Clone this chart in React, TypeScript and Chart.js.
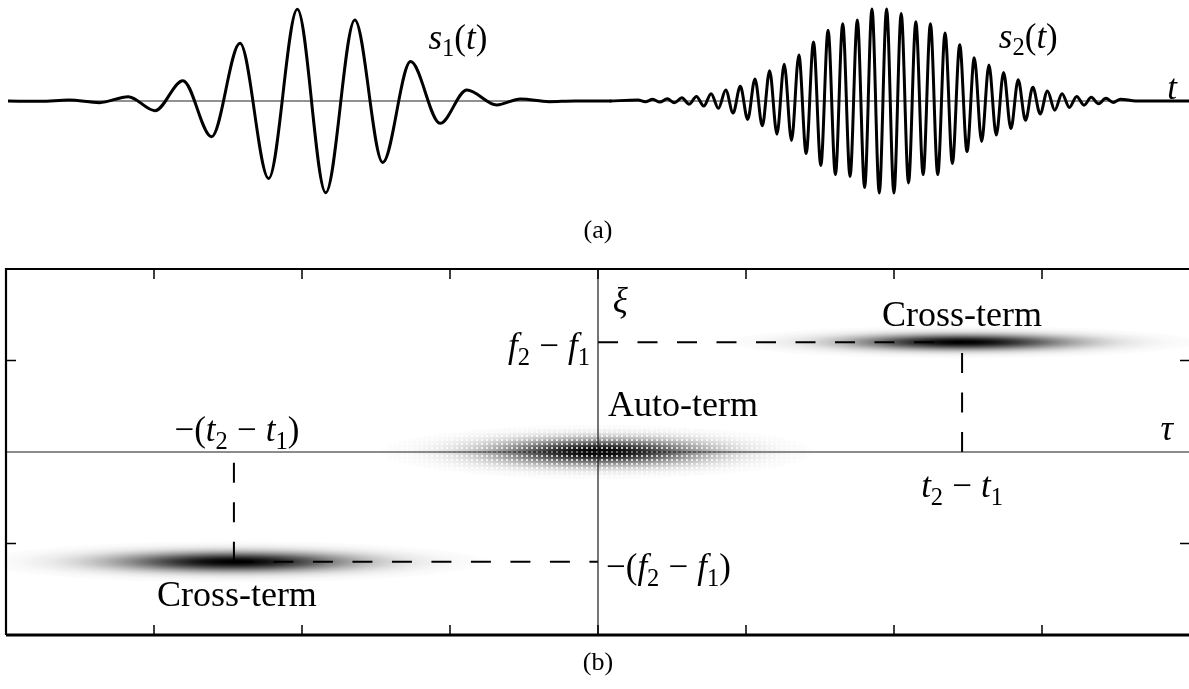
import { useEffect, useRef } from "react";
import { Chart, registerables } from "chart.js";

Chart.register(...registerables);

// ---------- (a) test signals: extrema of s1(t) and s2(t) ----------
const T_MIN = 0;
const T_MAX = 20;

const S1_T = [0, 0.55, 1.031, 1.55, 2.036, 2.489, 2.962, 3.448, 3.929, 4.414, 4.9, 5.38, 5.873, 6.346, 6.818, 7.318, 7.771, 8.276, 8.679, 9.16, 9.6, 10.2];
const S1_A = [0, -0.004, 0.011, -0.018, 0.047, -0.105, 0.221, -0.388, 0.627, -0.841, 0.996, -0.996, 0.88, -0.667, 0.428, -0.243, 0.12, -0.043, 0.022, -0.008, 0, 0];

const S2_T = [
  10.2, 10.669, 10.793, 10.917, 11.04, 11.164, 11.288, 11.412, 11.536, 11.659, 11.783,
  11.907, 12.031, 12.155, 12.279, 12.402, 12.526, 12.65, 12.774, 12.898, 13.022,
  13.145, 13.269, 13.393, 13.517, 13.641, 13.765, 13.888, 14.012, 14.136, 14.26,
  14.383, 14.507, 14.631, 14.755, 14.879, 15.003, 15.126, 15.25, 15.374, 15.498,
  15.621, 15.745, 15.869, 15.993, 16.117, 16.241, 16.364, 16.488, 16.612, 16.736,
  16.86, 16.984, 17.107, 17.231, 17.355, 17.479, 17.603, 17.727, 17.85, 17.974,
  18.098, 18.222, 18.345, 18.469, 18.593, 18.717, 18.841, 19.1, 20,
];
const S2_A = [
  0, 0.01, -0.008, 0.018, -0.012, 0.025, -0.02, 0.035, -0.035, 0.05, -0.055,
  0.08, -0.08, 0.12, -0.13, 0.16, -0.2, 0.24, -0.27, 0.33, -0.36,
  0.4, -0.43, 0.5, -0.57, 0.64, -0.7, 0.77, -0.8, 0.84, -0.82,
  0.88, -0.94, 1.0, -1.0, 1.0, -1.0, 0.95, -0.89, 0.86, -0.8,
  0.84, -0.8, 0.74, -0.68, 0.61, -0.55, 0.47, -0.44, 0.39, -0.37,
  0.31, -0.3, 0.23, -0.21, 0.15, -0.14, 0.11, -0.1, 0.08, -0.07,
  0.05, -0.045, 0.04, -0.03, 0.03, -0.015, 0.02, 0, 0,
];

// ---------- (b) ambiguity plane: auto-term and the two cross-terms ----------
const TAU_MIN = -4;
const TAU_MAX = 4;
const XI_MIN = -2;
const XI_MAX = 2;
const TAU_TICKS = [-3, -2, -1, 0, 1, 2, 3];
const XI_TICKS = [-1, 1];

const TIME_LAG = 2.46; // t2 - t1
const FREQ_SHIFT = 1.2; // f2 - f1

const TERM_KIND = ["auto", "cross", "cross"];
const TERM_TAU = [0, TIME_LAG, -TIME_LAG];
const TERM_XI = [0, FREQ_SHIFT, -FREQ_SHIFT];
const TERM_PEAK = [1, 1, 1];
const TERM_SIGMA_TAU = [0.37, 0.4, 0.43];
const TERM_SIGMA_XI = [0.075, 0.045, 0.057];

const SERIF = '"Liberation Serif", "DejaVu Serif", serif';
const MATH_SIZE = 35;
const TEXT_SIZE = 36;
const CAPTION_SIZE = 26;

type Seg = { t?: string; it?: boolean; sub?: boolean; gap?: number };
type Label = { segs: Seg[]; x: number; y: number; align: "left" | "center" | "right"; size: number };

const MINUS: Seg[] = [{ gap: 0.26 }, { t: "\u2212" }, { gap: 0.26 }];

function drawRich(ctx: CanvasRenderingContext2D, segs: Seg[], x: number, y: number, align: string, size: number) {
  const parts = segs.map((s) => {
    if (s.gap) return { w: s.gap * size, t: "", font: "", dy: 0 };
    const fs = s.sub ? size * 0.7 : size;
    const font = `${s.it ? "italic " : ""}${fs}px ${SERIF}`;
    ctx.font = font;
    return { w: ctx.measureText(s.t || "").width, t: s.t || "", font, dy: s.sub ? size * 0.22 : 0 };
  });
  const total = parts.reduce((a, p) => a + p.w, 0);
  let cx = align === "left" ? x : align === "right" ? x - total : x - total / 2;
  ctx.fillStyle = "#000";
  ctx.textBaseline = "alphabetic";
  ctx.textAlign = "left";
  for (const p of parts) {
    if (p.t) {
      ctx.font = p.font;
      ctx.fillText(p.t, cx, y + p.dy);
    }
    cx += p.w;
  }
}

const TOP_LABELS: Label[] = [
  { segs: [{ t: "s", it: true }, { t: "1", sub: true }, { t: "(" }, { t: "t", it: true }, { t: ")" }], x: 7.12, y: 0.57, align: "left", size: MATH_SIZE },
  { segs: [{ t: "s", it: true }, { t: "2", sub: true }, { t: "(" }, { t: "t", it: true }, { t: ")" }], x: 16.78, y: 0.58, align: "left", size: MATH_SIZE },
  { segs: [{ t: "t", it: true }], x: 19.63, y: 0.02, align: "left", size: MATH_SIZE },
  { segs: [{ t: "(a)" }], x: 9.99, y: -1.49, align: "center", size: CAPTION_SIZE },
];

const BOTTOM_LABELS: Label[] = [
  { segs: [{ t: "\u03be", it: true }], x: 0.1, y: 1.53, align: "left", size: MATH_SIZE },
  { segs: [{ t: "f", it: true }, { t: "2", sub: true }, ...MINUS, { t: "f", it: true }, { t: "1", sub: true }], x: -0.054, y: 1.04, align: "right", size: MATH_SIZE },
  { segs: [{ t: "Auto-term" }], x: 0.068, y: 0.39, align: "left", size: TEXT_SIZE },
  { segs: [{ t: "Cross-term" }], x: TIME_LAG, y: 1.38, align: "center", size: TEXT_SIZE },
  { segs: [{ t: "\u2212(" }, { t: "t", it: true }, { t: "2", sub: true }, ...MINUS, { t: "t", it: true }, { t: "1", sub: true }, { t: ")" }], x: -2.44, y: 0.12, align: "center", size: MATH_SIZE },
  { segs: [{ t: "\u03c4", it: true }], x: 3.8, y: 0.13, align: "left", size: MATH_SIZE },
  { segs: [{ t: "t", it: true }, { t: "2", sub: true }, ...MINUS, { t: "t", it: true }, { t: "1", sub: true }], x: TIME_LAG, y: -0.49, align: "center", size: MATH_SIZE },
  { segs: [{ t: "\u2212(" }, { t: "f", it: true }, { t: "2", sub: true }, ...MINUS, { t: "f", it: true }, { t: "1", sub: true }, { t: ")" }], x: 0.054, y: -1.38, align: "left", size: MATH_SIZE },
  { segs: [{ t: "Cross-term" }], x: -2.44, y: -1.68, align: "center", size: TEXT_SIZE },
  { segs: [{ t: "(b)" }], x: 0, y: -2.38, align: "center", size: CAPTION_SIZE },
];

function labelPlugin(id: string, labels: Label[]) {
  return {
    id,
    afterDraw(chart: any) {
      const ctx: CanvasRenderingContext2D = chart.ctx;
      const sx = chart.scales.x;
      const sy = chart.scales.y;
      ctx.save();
      for (const l of labels) {
        drawRich(ctx, l.segs, sx.getPixelForValue(l.x), sy.getPixelForValue(l.y), l.align, l.size);
      }
      ctx.restore();
    },
  };
}

const INTENSITY_GAMMA = 0.6;

function makeDots(): CanvasPattern | null {
  const c = document.createElement("canvas");
  c.width = 5;
  c.height = 4;
  const g = c.getContext("2d")!;
  g.fillStyle = "rgba(255,255,255,0.75)";
  g.fillRect(1, 1, 2, 2);
  return g.createPattern(c, "repeat");
}

const termPlugin = {
  id: "terms",
  beforeDatasetsDraw(chart: any) {
    const ctx: CanvasRenderingContext2D = chart.ctx;
    const { left, top, right, bottom } = chart.chartArea;
    const sx = chart.scales.x;
    const sy = chart.scales.y;
    ctx.save();
    ctx.beginPath();
    ctx.rect(left, top, right - left, bottom - top);
    ctx.clip();
    for (let i = 0; i < TERM_TAU.length; i++) {
      const cx = sx.getPixelForValue(TERM_TAU[i]);
      const cy = sy.getPixelForValue(TERM_XI[i]);
      const rx = Math.abs(sx.getPixelForValue(TERM_TAU[i] + TERM_SIGMA_TAU[i]) - cx);
      const ry = Math.abs(sy.getPixelForValue(TERM_XI[i] + TERM_SIGMA_XI[i]) - cy);
      const R = 4;
      ctx.save();
      ctx.translate(cx, cy);
      ctx.scale(rx, ry);
      const g = ctx.createRadialGradient(0, 0, 0, 0, 0, R);
      const n = 32;
      for (let k = 0; k <= n; k++) {
        const r = (R * k) / n;
        const v = k === n ? 0 : TERM_PEAK[i] * Math.exp((-r * r) / 2);
        g.addColorStop(k / n, `rgba(0,0,0,${Math.pow(v, INTENSITY_GAMMA).toFixed(4)})`);
      }
      ctx.fillStyle = g;
      ctx.fillRect(-R, -R, 2 * R, 2 * R);
      ctx.restore();
      if (TERM_KIND[i] === "auto") {
        const pat = makeDots();
        if (pat) {
          ctx.fillStyle = pat;
          ctx.fillRect(cx - R * rx, cy - R * ry, 2 * R * rx, 2 * R * ry);
        }
      }
    }
    ctx.restore();
  },
};

const framePlugin = {
  id: "frame",
  afterDatasetsDraw(chart: any) {
    const ctx: CanvasRenderingContext2D = chart.ctx;
    const { left, top, right, bottom } = chart.chartArea;
    const sx = chart.scales.x;
    const sy = chart.scales.y;
    ctx.save();
    ctx.strokeStyle = "#000";
    ctx.lineWidth = 2.2;
    ctx.beginPath();
    ctx.moveTo(right, top);
    ctx.lineTo(left, top);
    ctx.lineTo(left, bottom);
    ctx.stroke();
    ctx.lineWidth = 2.8;
    ctx.beginPath();
    ctx.moveTo(left, bottom);
    ctx.lineTo(right, bottom);
    ctx.stroke();
    const len = 10;
    ctx.lineWidth = 1.5;
    ctx.beginPath();
    for (const v of TAU_TICKS) {
      const px = sx.getPixelForValue(v);
      ctx.moveTo(px, top);
      ctx.lineTo(px, top + len);
      ctx.moveTo(px, bottom);
      ctx.lineTo(px, bottom - len);
    }
    for (const v of XI_TICKS) {
      const py = sy.getPixelForValue(v);
      ctx.moveTo(left, py);
      ctx.lineTo(left + len, py);
      ctx.moveTo(right, py);
      ctx.lineTo(right - len, py);
    }
    ctx.stroke();
    ctx.restore();
  },
};

function seg(a: [number, number], b: [number, number]) {
  return [
    { x: a[0], y: a[1] },
    { x: b[0], y: b[1] },
  ];
}

export default function App() {
  const topRef = useRef<HTMLCanvasElement>(null);
  const botRef = useRef<HTMLCanvasElement>(null);

  useEffect(() => {
    const s1 = S1_T.map((t, i) => ({ x: t, y: S1_A[i] }));
    const s2 = S2_T.map((t, i) => ({ x: t, y: S2_A[i] }));
    const wave = {
      showLine: true,
      borderColor: "#000",
      borderWidth: 3,
      pointRadius: 0,
      cubicInterpolationMode: "monotone" as const,
      borderJoinStyle: "round" as const,
      borderCapStyle: "round" as const,
    };
    const top = new Chart(topRef.current!, {
      type: "scatter",
      data: {
        datasets: [
          { data: s1, ...wave },
          { data: s2, ...wave },
          { data: seg([T_MIN, 0], [T_MAX, 0]), showLine: true, borderColor: "#222", borderWidth: 1, pointRadius: 0 },
        ],
      },
      options: {
        animation: false,
        responsive: false,
        events: [],
        layout: { padding: { left: 8, right: 0, top: 4, bottom: 52 } },
        plugins: { legend: { display: false }, tooltip: { enabled: false } },
        scales: {
          x: { type: "linear", min: T_MIN, max: T_MAX, display: false },
          y: { type: "linear", min: -1.054, max: 1.054, display: false },
        },
      },
      plugins: [labelPlugin("topLabels", TOP_LABELS)],
    });

    const dash = { showLine: true, borderColor: "#000", borderWidth: 2, borderDash: [20, 19.5], pointRadius: 0 };
    const axis = { showLine: true, borderColor: "#1a1a1a", borderWidth: 1.2, pointRadius: 0 };
    const bot = new Chart(botRef.current!, {
      type: "scatter",
      data: {
        datasets: [
          { data: seg([TAU_MIN, 0], [TAU_MAX, 0]), ...axis },
          { data: seg([0, XI_MIN], [0, XI_MAX]), ...axis },
          { data: seg([0, FREQ_SHIFT], [TIME_LAG, FREQ_SHIFT]), ...dash },
          { data: seg([TIME_LAG, 0], [TIME_LAG, FREQ_SHIFT]), ...dash },
          { data: seg([-TIME_LAG, -FREQ_SHIFT], [0, -FREQ_SHIFT]), ...dash },
          { data: seg([-TIME_LAG, -FREQ_SHIFT], [-TIME_LAG, 0]), ...dash },
        ],
      },
      options: {
        animation: false,
        responsive: false,
        events: [],
        layout: { padding: { left: 6, right: 2, top: 11, bottom: 43 } },
        plugins: { legend: { display: false }, tooltip: { enabled: false } },
        scales: {
          x: { type: "linear", min: TAU_MIN, max: TAU_MAX, display: false },
          y: { type: "linear", min: XI_MIN, max: XI_MAX, display: false },
        },
      },
      plugins: [termPlugin, framePlugin, labelPlugin("bottomLabels", BOTTOM_LABELS)],
    });

    return () => {
      top.destroy();
      bot.destroy();
    };
  }, []);

  return (
    <div style={{ position: "absolute", left: 0, top: 0, width: 1189, height: 689, overflow: "hidden", background: "#fff" }}>
      <canvas ref={topRef} width={1189} height={250} style={{ position: "absolute", left: 0, top: 0 }} />
      <canvas ref={botRef} width={1192} height={420} style={{ position: "absolute", left: 0, top: 258 }} />
    </div>
  );
}
